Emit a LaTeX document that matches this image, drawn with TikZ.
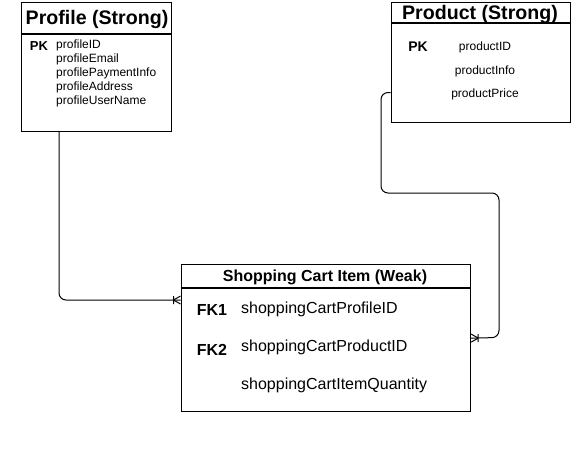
\documentclass[tikz,border=0pt]{standalone}
\usepackage{fontspec}
\setmainfont{Liberation Sans}
\usetikzlibrary{positioning}

\tikzset{
  entity/.style={draw, line width=1.2pt, inner sep=0pt, anchor=north west},
  entitytitle/.style={font=\bfseries\fontsize{19.6}{22}\selectfont, inner sep=0pt},
  keyname/.style={font=\bfseries\fontsize{13}{15}\selectfont, inner sep=0pt},
  attr/.style={font=\fontsize{12}{14}\selectfont, inner sep=0pt},
  relation/.style={line width=1pt}
}

\begin{document}
\begin{tikzpicture}[x=1pt, y=-1pt]

\useasboundingbox (0,0) rectangle (571,475);

%Profile (Strong)%
\node[entity, minimum width=150pt, minimum height=129pt] (profile) at (20.5,2) {};
\draw[line width=1.2pt] (profile.west |- 0,34) -- (profile.east |- 0,34);
\node[entitytitle] (profiletitle) at (97,19) {Profile (Strong)};
\node[keyname] (profilepk) at (39,46) {PK};
\foreach \f [count=\i from 0] in {profileID, profileEmail, profilePaymentInfo, profileAddress, profileUserName}
  \node[attr, anchor=west] (profile\i) at (56,45+14.2*\i) {\f};

%Product (Strong)%
\node[entity, minimum width=179.5pt, minimum height=120pt] (product) at (390.5,2) {};
\draw[line width=1.2pt] (product.west |- 0,23) -- (product.east |- 0,23);
\node[entitytitle] (producttitle) at (480,14) {Product (Strong)};
\node[keyname, font=\bfseries\fontsize{14}{16}\selectfont] (productpk) at (418,47) {PK};
\foreach \f/\y in {productID/47.5, productInfo/71, productPrice/94.5}
  \node[attr] (\f) at (485,\y) {\f};

%Shopping Cart Item (Weak)%
\node[entity, minimum width=289.5pt, minimum height=147pt] (cart) at (180.5,264) {};
\draw[line width=1.2pt] (cart.west |- 0,288) -- (cart.east |- 0,288);
\node[entitytitle, font=\bfseries\fontsize{16}{19}\selectfont] (carttitle) at (325,277) {Shopping Cart Item (Weak)};
\node[keyname, font=\bfseries\fontsize{16}{19}\selectfont] (fk1) at (212,309.5) {FK1};
\node[keyname, font=\bfseries\fontsize{16}{19}\selectfont] (fk2) at (212,350) {FK2};
\foreach \f/\y in {shoppingCartProfileID/309.5, shoppingCartProductID/347, shoppingCartItemQuantity/385}
  \node[attr, anchor=west, font=\fontsize{16}{19}\selectfont] (\f) at (241,\y) {\f};

%relations%
\coordinate (profileend) at ([yshift=-36pt]cart.north west);
\coordinate (productend) at (cart.east);
\draw[relation, rounded corners=7pt] (profile.south -| 59,0) |- (profileend);
\draw[relation, rounded corners=7pt] (product.west |- 0,92.5) -| (381,193) -| (499,337.5) -- (productend);

%crow's feet%
\foreach \e/\d in {profileend/-1, productend/1}
  \draw[relation] ([xshift=\d*7pt]\e) -- ([yshift=4pt]\e) ([xshift=\d*7pt]\e) -- ([yshift=-4pt]\e)
    ([xshift=\d*7pt, yshift=4pt]\e) -- ([xshift=\d*7pt, yshift=-4pt]\e);

\end{tikzpicture}
\end{document}
